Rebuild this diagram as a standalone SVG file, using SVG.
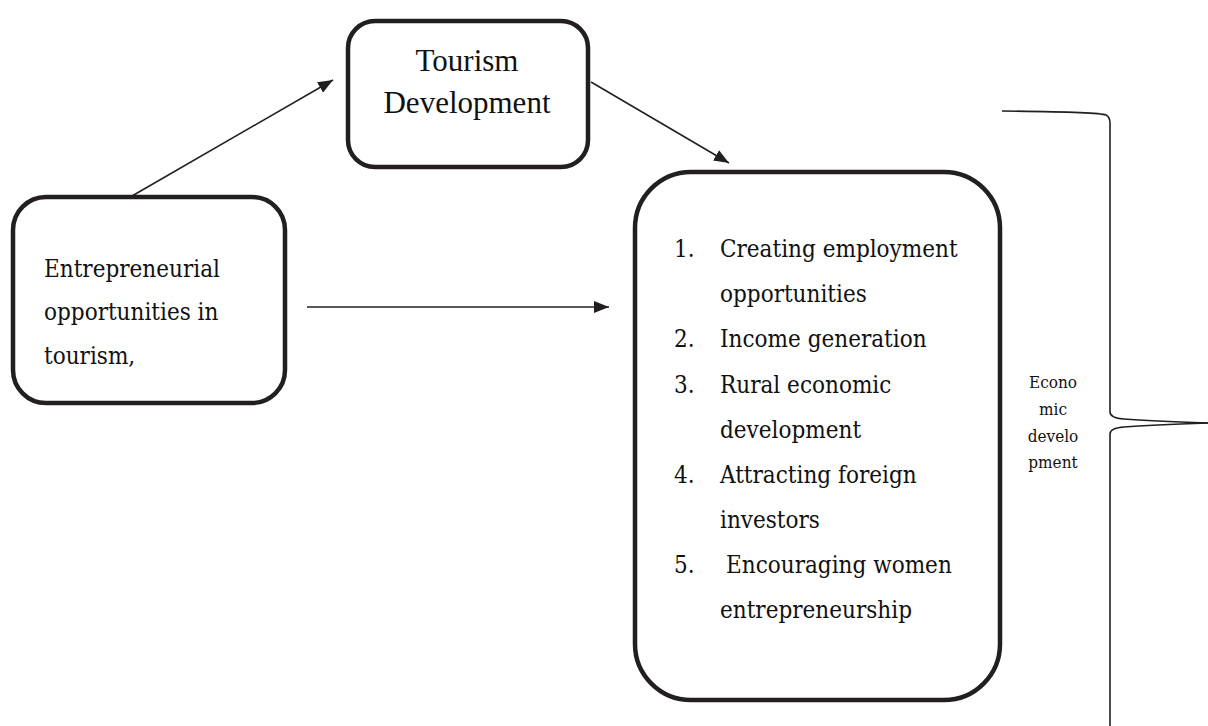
<svg xmlns="http://www.w3.org/2000/svg" width="1208" height="726" viewBox="0 0 1208 726">
  <style>
    .box { fill: #fff; stroke: #231f20; stroke-width: 4.5; }
    .link { fill: none; stroke: #231f20; stroke-width: 1.6; }
    .brace { fill: none; stroke: #231f20; stroke-width: 1.6; }
    .times { font-family: "Liberation Serif", "Times New Roman", serif; fill: #111; }
    .body { font-family: "DejaVu Serif", serif; font-stretch: condensed; fill: #111; }
  </style>
  <defs>
    <marker id="head" markerUnits="userSpaceOnUse" markerWidth="16" markerHeight="12" refX="15" refY="6" orient="auto" viewBox="0 0 16 12">
      <path d="M0,0 L15,6 L0,12 z" fill="#231f20"/>
    </marker>
  </defs>
  <rect width="1208" height="726" fill="#fff"/>

  <!-- connectors -->
  <g id="connectors">
    <line class="link" x1="132" y1="196" x2="333" y2="80" marker-end="url(#head)"/>
    <line class="link" x1="591" y1="82" x2="729" y2="163" marker-end="url(#head)"/>
    <line class="link" x1="307" y1="307" x2="609" y2="307" marker-end="url(#head)"/>
  </g>

  <!-- tourism development -->
  <g id="tourism">
    <rect class="box" x="348" y="21" width="240" height="146" rx="27"/>
    <text class="times" font-size="31" text-anchor="middle" x="467" y="71">Tourism</text>
    <text class="times" font-size="31" text-anchor="middle" x="467" y="113">Development</text>
  </g>

  <!-- entrepreneurial opportunities -->
  <g id="entrepreneurial">
    <rect class="box" x="13" y="197" width="272" height="206" rx="33"/>
    <text class="body" font-size="24" x="44" y="277">Entrepreneurial</text>
    <text class="body" font-size="24" x="44" y="320">opportunities in</text>
    <text class="body" font-size="24" x="44" y="364">tourism,</text>
  </g>

  <!-- outcomes list -->
  <g id="outcomes">
    <rect class="box" x="635" y="172" width="365" height="528" rx="56"/>
    <g class="body" font-size="24">
      <text x="674" y="257">1.</text>
      <text x="720" y="257">Creating employment</text>
      <text x="720" y="302">opportunities</text>
      <text x="674" y="347">2.</text>
      <text x="720" y="347">Income generation</text>
      <text x="674" y="393">3.</text>
      <text x="720" y="393">Rural economic</text>
      <text x="720" y="438">development</text>
      <text x="674" y="483">4.</text>
      <text x="720" y="483">Attracting foreign</text>
      <text x="720" y="528">investors</text>
      <text x="674" y="573">5.</text>
      <text x="726" y="573">Encouraging women</text>
      <text x="720" y="618">entrepreneurship</text>
    </g>
  </g>

  <!-- economic development brace -->
  <g id="economic">
    <path class="brace" d="M1002,111 Q1098,112 1106,115 Q1110,117 1110,123 V412 Q1110,418 1124,419 Q1150,421 1208,423"/>
    <path class="brace" d="M1208,423 Q1150,425 1124,427 Q1110,428 1110,434 V726"/>
    <g class="body" font-size="17" text-anchor="middle">
      <text x="1053" y="388">Econo</text>
      <text x="1053" y="415">mic</text>
      <text x="1053" y="442">develo</text>
      <text x="1053" y="468">pment</text>
    </g>
  </g>
</svg>
